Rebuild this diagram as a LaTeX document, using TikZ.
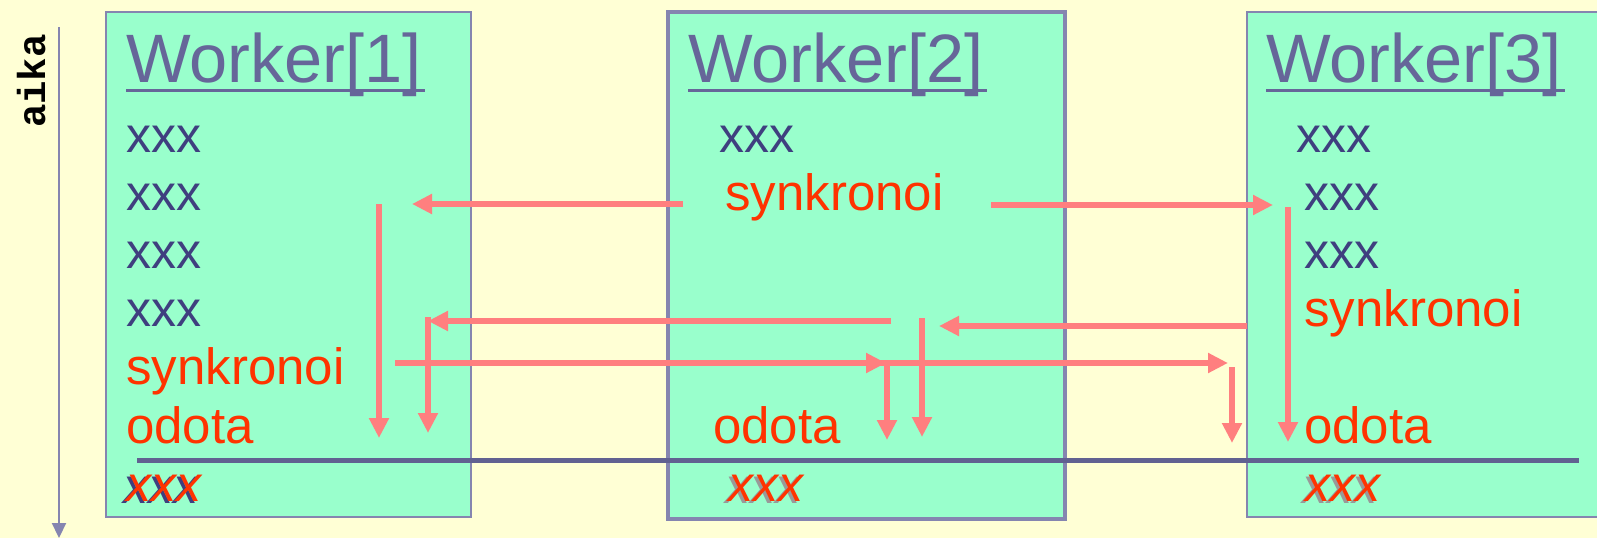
\documentclass[tikz,border=0pt]{standalone}
\usepackage{fontspec}
\setmainfont{Liberation Sans}
\setmonofont{Liberation Mono}
\usetikzlibrary{arrows.meta}

\definecolor{paper}{HTML}{FFFFD5}
\definecolor{boxfill}{HTML}{99FFCC}
\definecolor{boxline}{HTML}{8585B0}
\definecolor{titlecol}{HTML}{666699}
\definecolor{plain}{HTML}{3F3F7F}
\definecolor{hot}{HTML}{FF3300}
\definecolor{msg}{HTML}{FF7F7F}
\definecolor{shade}{HTML}{999999}

\begin{document}
\begin{tikzpicture}[x=1pt,y=-1pt,
  worker/.style={draw=boxline, fill=boxfill, line width=2pt, inner sep=0pt, outer sep=0pt, anchor=north west},
  title/.style={anchor=base west, inner sep=0pt, text=titlecol, font=\fontsize{68.5}{68.5}\selectfont},
  titleline/.style={draw=titlecol, line width=3pt},
  stmt/.style={anchor=base west, inner sep=0pt, text=plain, font=\fontsize{50}{50}\selectfont},
  sync/.style={stmt, text=hot, font=\fontsize{51}{51}\selectfont},
  gone/.style={stmt, text=hot, font=\fontsize{50}{50}\selectfont\itshape},
  goneshade/.style={gone, text=#1},
  msgarrow/.style={draw=msg, line width=6pt, -{Triangle[length=20pt,width=19pt]}},
  divider/.style={draw=titlecol!95!black, line width=5pt},
  timeaxis/.style={draw=boxline, line width=2.2pt, -{Triangle[length=15pt,width=14pt]}}]

% page
\useasboundingbox (0,0) rectangle (1597,538);
\fill[paper] (0,0) rectangle (1597,538);

% time axis
\coordinate (t0) at (59,27);
\coordinate (t1) at (59,538);
\draw[timeaxis] (t0) -- (t1);
\node[rotate=90, anchor=base, inner sep=0pt, font=\fontsize{39}{39}\selectfont\ttfamily\bfseries] (aika) at (45,81) {aika};

% worker columns
\node[worker, minimum width=365pt, minimum height=505pt] (w1) at (106,12) {};
\node[worker, line width=4.5pt, minimum width=397pt, minimum height=507pt] (w2) at (668,12) {};
\node[worker, minimum width=351pt, minimum height=505pt] (w3) at (1247,12) {};

% titles
\node[title] (h1) at (126,82) {Worker[1]};
\node[title] (h2) at (688,82) {Worker[2]};
\node[title] (h3) at (1266,82) {Worker[3]};
\foreach \h in {h1,h2,h3}{
  \draw[titleline] ([yshift=-8pt]\h.base west) -- ([yshift=-8pt,xshift=3pt]\h.base east);
}

% Worker[1]
\node[stmt] (a1) at (126,152) {xxx};
\node[stmt] (a2) at (126,210) {xxx};
\node[stmt] (a3) at (126,268) {xxx};
\node[stmt] (a4) at (126,326) {xxx};
\node[sync] (as) at (126,384) {synkronoi};
\node[sync] (aw) at (126,443) {odota};
\node[goneshade=plain] (ax0) at (123,503) {xxx};
\node[gone] (ax) at (126,501) {xxx};

% Worker[2]
\node[stmt] (b1) at (719,152) {xxx};
\node[sync] (bs) at (725,210) {synkronoi};
\node[sync] (bw) at (713,443) {odota};
\node[goneshade=shade] (bx0) at (725,503) {xxx};
\node[gone] (bx) at (728,501) {xxx};

% Worker[3]
\node[stmt] (c1) at (1296,152) {xxx};
\node[stmt] (c2) at (1304,210) {xxx};
\node[stmt] (c3) at (1304,268) {xxx};
\node[sync] (cs) at (1304,326) {synkronoi};
\node[sync] (cw) at (1304,443) {odota};
\node[goneshade=shade] (cx0) at (1302,503) {xxx};
\node[gone] (cx) at (1305,501) {xxx};

% barrier line
\coordinate (d0) at (137,460);
\coordinate (d1) at (1579,460);
\draw[divider] (d0) -- (d1);

% message end points
\coordinate (m1s) at (683,204);  \coordinate (m1e) at (412,204);
\coordinate (m2s) at (991,205);  \coordinate (m2e) at (1273,205);
\coordinate (m3s) at (891,321);  \coordinate (m3e) at (428,321);
\coordinate (m4s) at (395,363);  \coordinate (m4e) at (886,363);
\coordinate (m5e) at (1228,363);
\coordinate (m6s) at (1247,326); \coordinate (m6e) at (939,326);

% waiting lines
\coordinate (v1s) at (379,204);  \coordinate (v1e) at (379,438);
\coordinate (v2s) at (428,317);  \coordinate (v2e) at (428,433);
\coordinate (v3s) at (887,365);  \coordinate (v3e) at (887,440);
\coordinate (v4s) at (922,318);  \coordinate (v4e) at (922,437);
\coordinate (v5s) at (1232,367); \coordinate (v5e) at (1232,443);
\coordinate (v6s) at (1288,207); \coordinate (v6e) at (1288,442);

\draw[msgarrow] (m1s) -- (m1e);
\draw[msgarrow] (m2s) -- (m2e);
\draw[msgarrow] (m3s) -- (m3e);
\draw[msgarrow] (m4s) -- (m5e);
\draw[msgarrow] (m4s) -- (m4e);
\draw[msgarrow] (m6s) -- (m6e);

\draw[msgarrow] (v1s) -- (v1e);
\draw[msgarrow] (v2s) -- (v2e);
\draw[msgarrow] (v3s) -- (v3e);
\draw[msgarrow] (v4s) -- (v4e);
\draw[msgarrow] (v5s) -- (v5e);
\draw[msgarrow] (v6s) -- (v6e);
\end{tikzpicture}
\end{document}
